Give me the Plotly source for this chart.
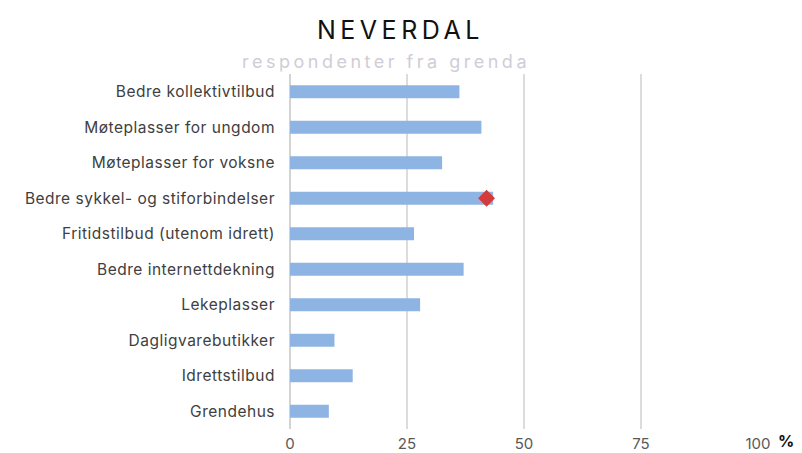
import plotly.graph_objects as go

categories = [
    "Bedre kollektivtilbud",
    "Møteplasser for ungdom",
    "Møteplasser for voksne",
    "Bedre sykkel- og stiforbindelser",
    "Fritidstilbud (utenom idrett)",
    "Bedre internettdekning",
    "Lekeplasser",
    "Dagligvarebutikker",
    "Idrettstilbud",
    "Grendehus",
]
values = [36.2, 40.9, 32.5, 43.4, 26.5, 37.1, 27.8, 9.5, 13.4, 8.3]
marker_category = ["Bedre sykkel- og stiforbindelser"]
marker_value = [42.0]
x_ticks = [0, 25, 50, 75, 100]

# the page body has an 8px margin, so the figure is drawn 8px smaller/offset
OFF = 8
W, H = 802 - OFF, 453 - OFF
L, R, T, B = 290 - OFF, 44, 74 - OFF, 24
PW, PH = W - L - R, H - T - B

def px(x):
    return (x - OFF - L) / PW

def py(y):
    return (H - B - (y - OFF)) / PH

FONT = "Inter, Lato, sans-serif"

fig = go.Figure()
fig.add_trace(go.Bar(
    y=categories, x=values, orientation="h",
    marker=dict(color="#8eb4e3", line=dict(width=0)),
    width=0.37, showlegend=False,
))
fig.add_trace(go.Scatter(
    y=marker_category, x=marker_value, mode="markers",
    marker=dict(symbol="diamond", color="#d63b3b", size=13),
    showlegend=False,
))

fig.update_layout(
    width=W, height=H,
    margin=dict(l=L, r=R, t=T, b=B),
    paper_bgcolor="white", plot_bgcolor="white",
    font=dict(family=FONT, color="#595959", size=14),
)
fig.update_xaxes(
    range=[0, 100], tickvals=x_ticks,
    showgrid=True, gridcolor="#dcdcdc", gridwidth=2,
    zeroline=True, zerolinecolor="#d4d4d4", zerolinewidth=2,
    tickfont=dict(size=15, color="#595959"), ticks="", automargin=False,
    ticklabelstandoff=4,
)
fig.update_yaxes(
    autorange="reversed", showgrid=False, zeroline=False, ticks="",
    tickvals=categories,
    ticktext=['<span style="letter-spacing:0.5px">%s</span>' % c for c in categories],
    tickfont=dict(size=15.5, color="#404040"), ticklabelstandoff=14, automargin=False,
)

fig.update_layout(annotations=[
    dict(text='<span style="letter-spacing:4.5px">NEVERDAL</span>',
         xref="paper", yref="paper", x=px(400), y=py(30),
         xanchor="center", yanchor="middle", showarrow=False,
         font=dict(size=25, color="#111111", family=FONT)),
    dict(text='<span style="letter-spacing:3.5px">respondenter fra grenda</span>',
         xref="paper", yref="paper", x=px(386), y=py(61),
         xanchor="center", yanchor="middle", showarrow=False,
         font=dict(size=18, color="#cfcdd6", family=FONT)),
    dict(text="<b>%</b>",
         xref="paper", yref="paper", x=px(786), y=py(441),
         xanchor="center", yanchor="middle", showarrow=False,
         font=dict(size=16, color="#111111", family=FONT)),
])

fig.write_html("out.html")
